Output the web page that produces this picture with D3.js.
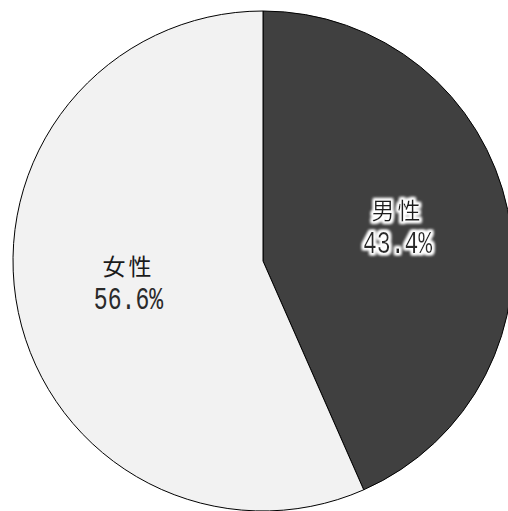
<!DOCTYPE html>
<html>
<head>
<meta charset="utf-8">
<script src="https://cdn.jsdelivr.net/npm/d3@7"></script>
<style>
  body { margin: 0; background: #fff; }
  .lbl-cjk { font-family: "Noto Sans CJK JP", sans-serif; font-size: 23px; }
  .lbl-num { font-family: "Liberation Mono", "DejaVu Sans Mono", monospace; font-size: 22px; }
</style>
</head>
<body>
<div id="chart"></div>
<script>
// Data
var categories = ["男性", "女性"];
var shares = [43.4, 56.6];
var percentLabels = ["43.4%", "56.6%"];

var svgWidth = 508;
var svgHeight = 511;
var cx = 263, cy = 261, radius = 250;

var colors = d3.scaleOrdinal()
  .domain(categories)
  .range(["#404040", "#f2f2f2"]);

var svg = d3.select("#chart")
  .append("svg")
  .attr("width", svgWidth)
  .attr("height", svgHeight);

// white glow for the label on the dark slice
var defs = svg.append("defs");
var glow = defs.append("filter").attr("id", "glow")
  .attr("x", "-30%").attr("y", "-30%").attr("width", "160%").attr("height", "160%");
glow.append("feMorphology").attr("in", "SourceAlpha").attr("operator", "dilate").attr("radius", 1.5).attr("result", "thick");
glow.append("feGaussianBlur").attr("in", "thick").attr("stdDeviation", 1.5).attr("result", "blur");
glow.append("feFlood").attr("flood-color", "#ffffff");
glow.append("feComposite").attr("in2", "blur").attr("operator", "in").attr("result", "halo");
var merge = glow.append("feMerge");
merge.append("feMergeNode").attr("in", "halo");
merge.append("feMergeNode").attr("in", "halo");
merge.append("feMergeNode").attr("in", "SourceGraphic");

var chartGroup = svg.append("g")
  .attr("transform", `translate(${cx}, ${cy})`);

var pie = d3.pie().sort(null).value(d => d);
var arcs = pie(shares);

var arc = d3.arc().innerRadius(0).outerRadius(radius);
var labelArc = d3.arc().innerRadius(radius * 0.55).outerRadius(radius * 0.55);

chartGroup.selectAll("path")
  .data(arcs)
  .enter()
  .append("path")
  .attr("d", arc)
  .attr("fill", (d, i) => colors(categories[i]))
  .attr("stroke", "#000")
  .attr("stroke-width", 1);

var labels = chartGroup.selectAll("g.label")
  .data(arcs)
  .enter()
  .append("g")
  .attr("class", "label")
  .attr("transform", d => {
    var c = labelArc.centroid(d);
    return `translate(${c[0]}, ${c[1] - 6})`;
  })
  .attr("filter", (d, i) => i === 0 ? "url(#glow)" : null);

labels.append("text")
  .attr("class", "lbl-cjk")
  .attr("text-anchor", "middle")
  .attr("y", -8)
  .attr("letter-spacing", 3)
  .attr("fill", "#1a1a1a")
  .text((d, i) => categories[i]);

labels.append("text")
  .attr("class", "lbl-num")
  .attr("text-anchor", "middle")
  .attr("transform", "translate(0, 26) scale(1.05, 1.4)")
  .attr("fill", "#2a2a2a")
  .text((d, i) => percentLabels[i]);
</script>
</body>
</html>
